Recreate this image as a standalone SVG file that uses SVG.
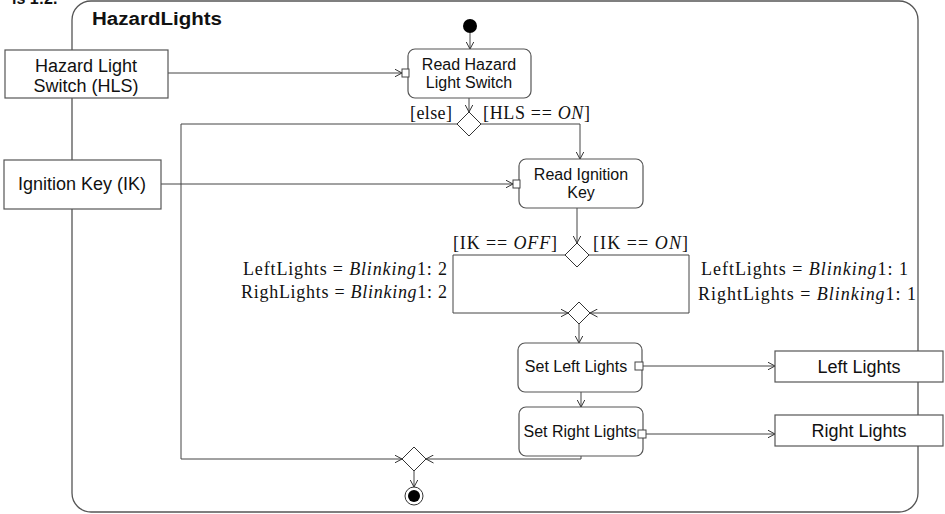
<svg xmlns="http://www.w3.org/2000/svg" width="945" height="514" viewBox="0 0 945 514">
<defs>
<marker id="arr" markerWidth="8" markerHeight="9" refX="7.5" refY="4.5" orient="auto" markerUnits="userSpaceOnUse">
<path d="M0,0.5 L7.5,4.5 L0,8.5" fill="none" stroke="#333" stroke-width="1"/>
</marker>
<style>
.frame{fill:#fff;stroke:#555;stroke-width:1.3}
.obj{fill:#fff;stroke:#555;stroke-width:1.2}
.act{fill:#fff;stroke:#555;stroke-width:1.2}
.pin{fill:#fff;stroke:#444;stroke-width:1}
.dec{fill:#fff;stroke:#333;stroke-width:1}
.edge{fill:none;stroke:#444;stroke-width:1;marker-end:url(#arr)}
.sans{font-family:"Liberation Sans",Arial,sans-serif;fill:#111}
.t18{font-size:18px}
.t16{font-size:16px}
.c{text-anchor:middle}
.math{font-family:"Liberation Serif","Times New Roman",serif;font-size:18px;fill:#111}
.it{font-style:italic}
</style>
</defs>
<rect width="945" height="514" fill="#fff"/>
<text class="sans" x="12" y="4" font-size="16" font-weight="bold">is 1:2.</text>
<g id="frame">
<rect class="frame" x="72" y="1" width="846" height="511" rx="19" ry="19"/>
<text class="sans" x="92" y="25" font-size="18" font-weight="bold" textLength="130" lengthAdjust="spacingAndGlyphs">HazardLights</text>
</g>
<g id="connectors">
<path class="edge" d="M470,33 V49"/>
<path class="edge" d="M168,73 H402"/>
<path class="edge" d="M469,98 V112"/>
<path class="edge" d="M457,124 H181 V459 H402"/>
<path class="edge" d="M481,124 H580 V159"/>
<path class="edge" d="M161,184 H513"/>
<path class="edge" d="M577,208 V243"/>
<path class="edge" d="M565,255 H453 V313 H568"/>
<path class="edge" d="M589,255 H689 V313 H590"/>
<path class="edge" d="M579,324 V343"/>
<path class="edge" d="M581,392 V407"/>
<path class="edge" d="M643,366 H775"/>
<path class="edge" d="M646,434 H775"/>
<path class="edge" d="M581,456 V459 H426"/>
<path class="edge" d="M414,471 V487"/>
</g>
<g id="initial"><circle cx="470" cy="26" r="7" fill="#000"/></g>
<g id="hls">
<rect class="obj" x="5" y="50" width="163" height="48"/>
<text class="sans t18 c" x="86" y="72">Hazard Light</text>
<text class="sans t18 c" x="86" y="92">Switch (HLS)</text>
</g>
<g id="readHLS">
<rect class="act" x="408" y="49" width="123" height="49" rx="7" ry="7"/>
<rect class="pin" x="402" y="69" width="7" height="8"/>
<text class="sans t16 c" x="469" y="70">Read Hazard</text>
<text class="sans t16 c" x="469" y="88">Light Switch</text>
</g>
<g id="decision1">
<path class="dec" d="M469,112 L481,124 L469,136 L457,124 Z"/>
<text class="math" x="410" y="119" textLength="42" lengthAdjust="spacing">[else]</text>
<text class="math" x="483" y="119" textLength="107" lengthAdjust="spacing">[HLS == <tspan class="it">ON</tspan>]</text>
</g>
<g id="ik">
<rect class="obj" x="4" y="160" width="157" height="49"/>
<text class="sans t18 c" x="82" y="190">Ignition Key (IK)</text>
</g>
<g id="readIK">
<rect class="act" x="519" y="159" width="124" height="49" rx="7" ry="7"/>
<rect class="pin" x="513" y="180" width="7" height="8"/>
<text class="sans t16 c" x="581" y="180">Read Ignition</text>
<text class="sans t16 c" x="581" y="198">Key</text>
</g>
<g id="decision2">
<path class="dec" d="M577,243 L589,255 L577,267 L565,255 Z"/>
<text class="math" x="453" y="249" textLength="104" lengthAdjust="spacing">[IK == <tspan class="it">OFF</tspan>]</text>
<text class="math" x="593" y="249" textLength="95" lengthAdjust="spacing">[IK == <tspan class="it">ON</tspan>]</text>
</g>
<g id="labelsOff">
<text class="math" x="243" y="275" textLength="204" lengthAdjust="spacing">LeftLights = <tspan class="it">Blinking</tspan>1: 2</text>
<text class="math" x="241" y="298" textLength="206" lengthAdjust="spacing">RighLights = <tspan class="it">Blinking</tspan>1: 2</text>
</g>
<g id="labelsOn">
<text class="math" x="701" y="275" textLength="207" lengthAdjust="spacing">LeftLights = <tspan class="it">Blinking</tspan>1: 1</text>
<text class="math" x="698" y="300" textLength="218" lengthAdjust="spacing">RightLights = <tspan class="it">Blinking</tspan>1: 1</text>
</g>
<g id="merge2">
<path class="dec" d="M579,302 L590,313 L579,324 L568,313 Z"/>
</g>
<g id="setLeft">
<rect class="act" x="518" y="343" width="124" height="49" rx="7" ry="7"/>
<text class="sans t16 c" x="576" y="372">Set Left Lights</text>
<rect class="pin" x="635" y="362" width="8" height="8"/>
</g>
<g id="leftLights">
<rect class="obj" x="775" y="351" width="168" height="31"/>
<text class="sans t18 c" x="859" y="373">Left Lights</text>
</g>
<g id="setRight">
<rect class="act" x="519" y="407" width="124" height="49" rx="7" ry="7"/>
<text class="sans t16 c" x="580" y="437">Set Right Lights</text>
<rect class="pin" x="638" y="430" width="8" height="8"/>
</g>
<g id="rightLights">
<rect class="obj" x="775" y="415" width="168" height="31"/>
<text class="sans t18 c" x="859" y="437">Right Lights</text>
</g>
<g id="mergeFinal">
<path class="dec" d="M414,447 L426,459 L414,471 L402,459 Z"/>
</g>
<g id="final">
<circle cx="414" cy="496" r="9" fill="#fff" stroke="#333" stroke-width="1"/>
<circle cx="414" cy="496" r="6" fill="#000"/>
</g>
</svg>
